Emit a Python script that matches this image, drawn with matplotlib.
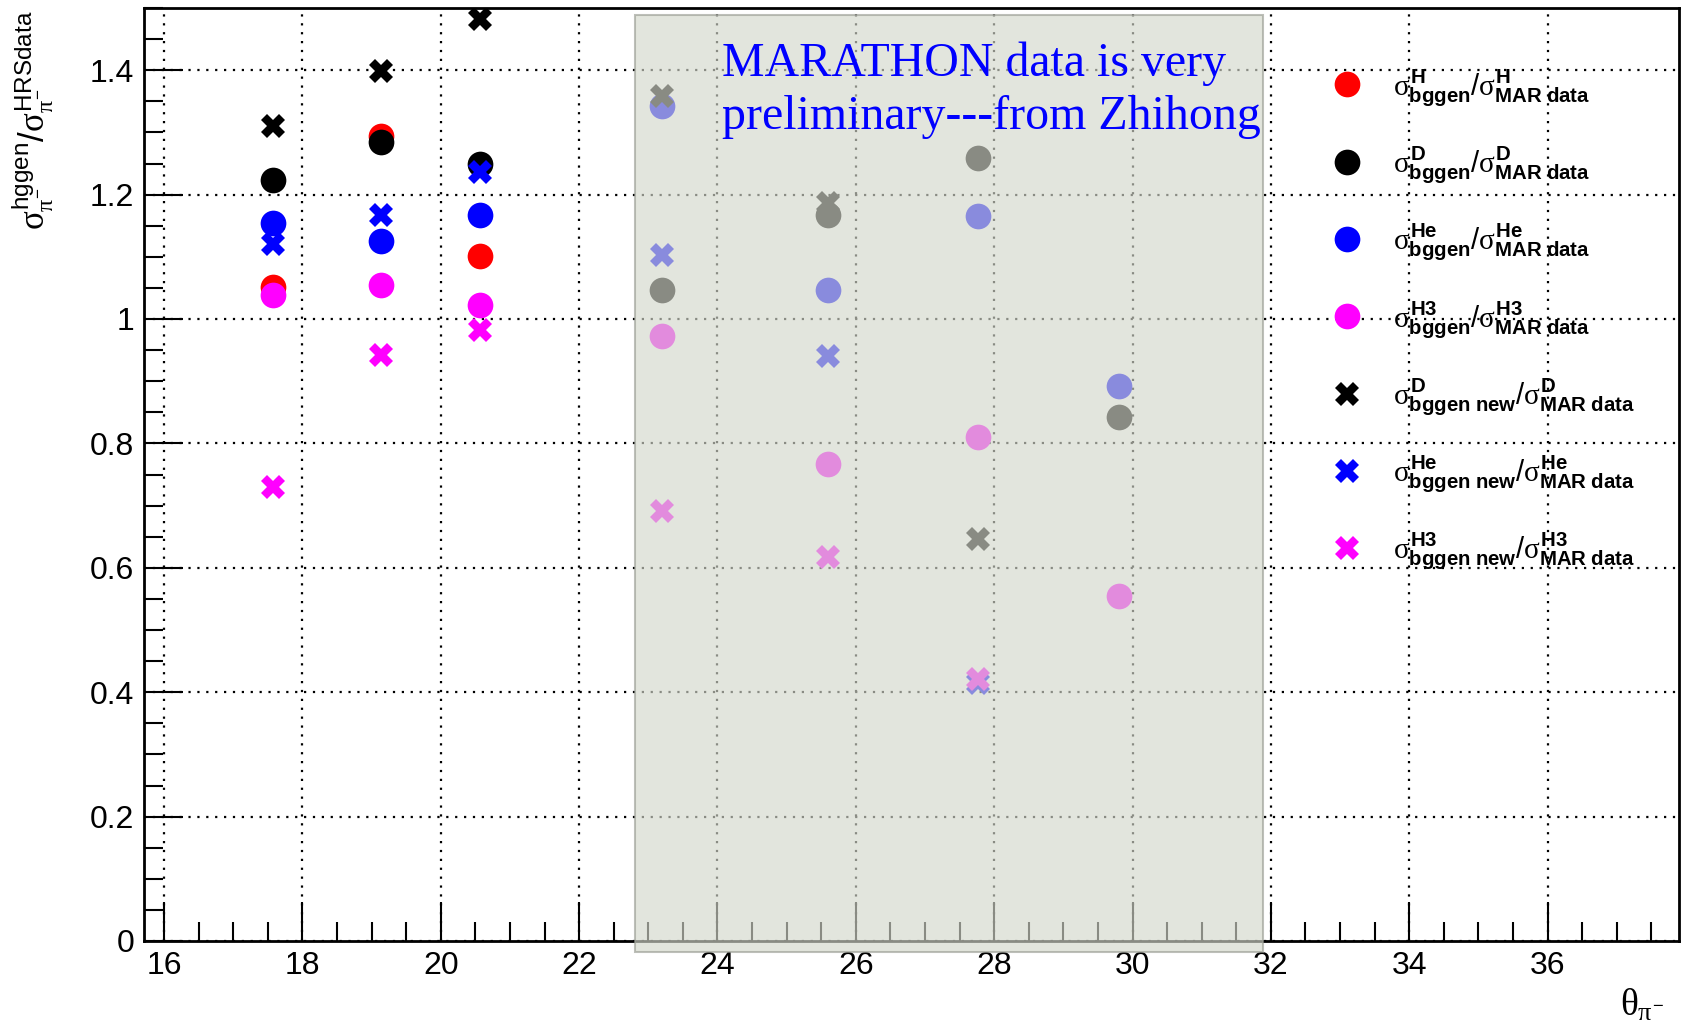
import matplotlib
matplotlib.use('Agg')
import matplotlib.pyplot as plt
from matplotlib.patches import Rectangle
from matplotlib.lines import Line2D
from matplotlib.ticker import MultipleLocator

plt.rcParams['font.family'] = 'Liberation Sans'
plt.rcParams['mathtext.fontset'] = 'custom'
plt.rcParams['mathtext.rm'] = 'Liberation Sans'
plt.rcParams['mathtext.bf'] = 'Liberation Sans:bold'
plt.rcParams['mathtext.it'] = 'Liberation Serif'

# pi- angle (deg)
theta = [17.58, 19.13, 20.57, 23.2, 25.6, 27.77, 29.81]

# bggen / MARATHON data
ratio_H = [1.051, 1.294, 1.101]
ratio_D = [1.224, 1.284, 1.249, 1.047, 1.168, 1.259, 0.842]
ratio_He = [1.155, 1.126, 1.168, 1.342, 1.047, 1.166, 0.893]
ratio_H3 = [1.039, 1.054, 1.023, 0.973, 0.767, 0.811, 0.554]

# bggen new / MARATHON data
ratio_D_new = [1.311, 1.399, 1.483, 1.358, 1.187, 0.646]
ratio_He_new = [1.120, 1.168, 1.236, 1.103, 0.941, 0.415]
ratio_H3_new = [0.730, 0.942, 0.982, 0.692, 0.618, 0.421]


def leg_label(target, new=False):
    gen = r'bggen\ new' if new else 'bggen'
    return (r'$\sigma^{\mathbf{%s}}_{\mathbf{%s}}/\sigma^{\mathbf{%s}}_{\mathbf{MAR\ data}}$'
            % (target, gen, target))


series = [
    (ratio_H, 'red', 'o', leg_label('H')),
    (ratio_D, 'black', 'o', leg_label('D')),
    (ratio_He, 'blue', 'o', leg_label('He')),
    (ratio_H3, 'magenta', 'o', leg_label('H3')),
    (ratio_D_new, 'black', 'X', leg_label('D', True)),
    (ratio_He_new, 'blue', 'X', leg_label('He', True)),
    (ratio_H3_new, 'magenta', 'X', leg_label('H3', True)),
]

fig = plt.figure(figsize=(16.85, 10.23), dpi=100)
ax = fig.add_axes([144 / 1685, 82 / 1023, (1679 - 144) / 1685, (941 - 8) / 1023])

handles = []
for vals, col, mk, lab in series:
    ms = 18.5 if mk == 'o' else 17
    ax.plot(theta[:len(vals)], vals, ls='none', marker=mk, ms=ms,
            color=col, mec=col, mew=0, zorder=3)
    handles.append(Line2D([], [], ls='none', marker=mk, ms=ms, color=col, mew=0, label=lab))

ax.set_xlim(15.71, 37.9)
ax.set_ylim(0, 1.5)
ax.xaxis.set_major_locator(MultipleLocator(2))
ax.xaxis.set_minor_locator(MultipleLocator(0.5))
ax.yaxis.set_major_locator(MultipleLocator(0.2))
ax.yaxis.set_minor_locator(MultipleLocator(0.05))
ax.set_yticks([0, 0.2, 0.4, 0.6, 0.8, 1.0, 1.2, 1.4])
ax.set_yticklabels(['0', '0.2', '0.4', '0.6', '0.8', '1', '1.2', '1.4'])
ax.set_xticks(range(16, 38, 2))
ax.tick_params(which='both', direction='in', top=False, right=False, width=1.5, labelsize=23)
ax.tick_params(which='major', length=28, pad=7)
ax.tick_params(which='minor', length=14)
ax.grid(True, which='major', color='black', linestyle=(0, (1, 3)), linewidth=1.6)
for s in ax.spines.values():
    s.set_linewidth(2)

# shaded "preliminary" block over the MARATHON points
ax.add_patch(Rectangle((22.81, -0.017), 31.88 - 22.81, 1.488 + 0.017,
                       facecolor=(211 / 255, 215 / 255, 203 / 255), edgecolor='#9a9d94',
                       linewidth=1.5, alpha=0.65, zorder=6, clip_on=False))
ax.text(24.06, 1.39, 'MARATHON data is very', color='blue', fontsize=34.5,
        family='Liberation Serif', zorder=7)
ax.text(24.06, 1.305, 'preliminary---from Zhihong', color='blue', fontsize=34.5,
        family='Liberation Serif', zorder=7)

ax.legend(handles=handles, loc='upper left', bbox_to_anchor=(0.774, 0.937), frameon=False,
          fontsize=21, handlelength=1.0, handletextpad=1.1, labelspacing=1.25,
          borderpad=0, borderaxespad=0)

fig.text(33 / 1685, 1 - 10 / 1023,
         r'$\sigma^{\mathrm{hggen}}_{\pi^{-}}/\sigma^{\mathrm{HRSdata}}_{\pi^{-}}$',
         rotation=90, ha='center', va='top', fontsize=25)
fig.text(1664 / 1685, 0.007, r'$\theta_{\pi^{-}}$', ha='right', va='baseline', fontsize=27)

fig.savefig('out.png', dpi=100)
